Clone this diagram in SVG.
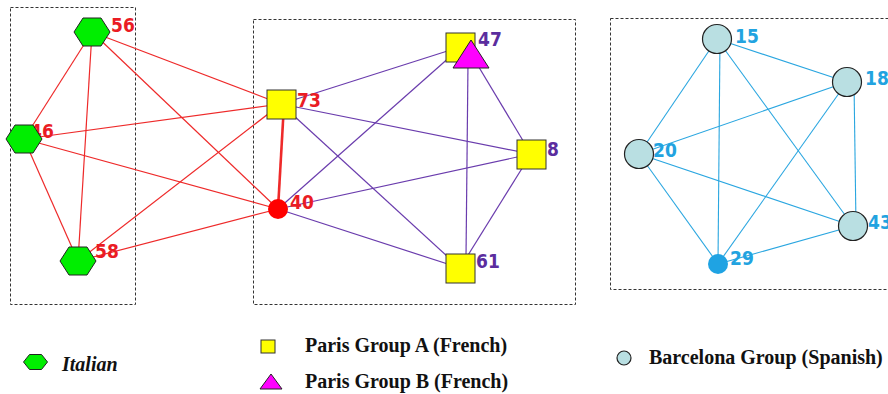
<svg xmlns="http://www.w3.org/2000/svg" width="888" height="394" viewBox="0 0 888 394">
<style>
.box{fill:none;stroke:#333;stroke-width:1;stroke-dasharray:3,2}
.er{stroke:#ee2a2a;stroke-width:1.2;fill:none}
.ep{stroke:#6a3cad;stroke-width:1.2;fill:none}
.eb{stroke:#2aa6e0;stroke-width:1.1;fill:none}
.hex{fill:#00ee00;stroke:#222;stroke-width:1}
.sq{fill:#ffff00;stroke:#333;stroke-width:1}
.tri{fill:#ff00ff;stroke:#222;stroke-width:1}
.cir{fill:#b9dfe2;stroke:#222;stroke-width:1.2}
.lbl{font-family:"DejaVu Sans Condensed","DejaVu Sans",sans-serif;font-weight:bold;font-size:19px}
.red{fill:#ea1c24}
.pur{fill:#5b2d9e}
.blu{fill:#22a3e0}
.leg{font-family:"Liberation Serif","Times New Roman",serif;font-weight:bold;font-size:20px;fill:#111}
</style>
<g id="groups">
<rect class="box" x="10.5" y="7.5" width="125" height="297"/>
<rect class="box" x="253.5" y="19.5" width="322" height="285"/>
<rect class="box" x="610.5" y="18.5" width="290" height="271"/>
</g>
<g id="connectors">
<line class="er" x1="92" y1="32" x2="24" y2="139"/>
<line class="er" x1="92" y1="32" x2="78" y2="261"/>
<line class="er" x1="24" y1="139" x2="78" y2="261"/>
<line class="er" x1="92" y1="32" x2="281" y2="104"/>
<line class="er" x1="92" y1="32" x2="278" y2="209"/>
<line class="er" x1="24" y1="139" x2="281" y2="104"/>
<line class="er" x1="24" y1="139" x2="278" y2="209"/>
<line class="er" x1="78" y1="261" x2="281" y2="104"/>
<line class="er" x1="78" y1="261" x2="278" y2="209"/>
<line class="er" x1="284" y1="104" x2="278" y2="209" style="stroke-width:2.6"/>
<line class="ep" x1="281" y1="104" x2="460" y2="47"/>
<line class="ep" x1="281" y1="104" x2="531" y2="154"/>
<line class="ep" x1="281" y1="104" x2="460" y2="268"/>
<line class="ep" x1="278" y1="209" x2="460" y2="48"/>
<line class="ep" x1="278" y1="209" x2="531" y2="154"/>
<line class="ep" x1="278" y1="209" x2="460" y2="268"/>
<line class="ep" x1="471" y1="54" x2="531" y2="154"/>
<line class="ep" x1="468" y1="62" x2="466" y2="258"/>
<line class="ep" x1="531" y1="154" x2="460" y2="268"/>
<line class="eb" x1="717" y1="39" x2="847" y2="82"/>
<line class="eb" x1="717" y1="39" x2="639" y2="154"/>
<line class="eb" x1="720" y1="39" x2="718" y2="264"/>
<line class="eb" x1="717" y1="39" x2="853" y2="226"/>
<line class="eb" x1="847" y1="82" x2="639" y2="154"/>
<line class="eb" x1="847" y1="82" x2="718" y2="264"/>
<line class="eb" x1="854" y1="82" x2="856" y2="226"/>
<line class="eb" x1="639" y1="154" x2="853" y2="226"/>
<line class="eb" x1="639" y1="154" x2="718" y2="264"/>
<line class="eb" x1="718" y1="264" x2="853" y2="226"/>
</g>
<g id="n56"><text class="lbl red" x="111" y="32">56</text><polygon class="hex" points="74,32 83,18 101,18 110,32 101,46 83,46"/></g>
<g id="n46"><text class="lbl red" x="30" y="138">46</text><polygon class="hex" points="6,139 15,125 33,125 42,139 33,153 15,153"/></g>
<g id="n58"><text class="lbl red" x="95" y="258">58</text><polygon class="hex" points="60,261 69,247 87,247 96,261 87,275 69,275"/></g>
<g id="n73"><text class="lbl red" x="297" y="107">73</text><rect class="sq" x="267" y="90" width="29" height="29"/></g>
<g id="n40"><text class="lbl red" x="290" y="209">40</text><circle cx="278" cy="209" r="10" fill="#ff0000"/></g>
<g id="n47"><text class="lbl pur" x="478" y="46">47</text><rect class="sq" x="446" y="33" width="29" height="29"/><polygon class="tri" points="471,40 489,68 453,68"/></g>
<g id="n8"><text class="lbl pur" x="547" y="156">8</text><rect class="sq" x="517" y="140" width="29" height="29"/></g>
<g id="n61"><text class="lbl pur" x="476" y="268">61</text><rect class="sq" x="446" y="254" width="29" height="29"/></g>
<g id="n15"><text class="lbl blu" x="735" y="43">15</text><circle class="cir" cx="717" cy="39" r="14.5"/></g>
<g id="n18"><text class="lbl blu" x="865" y="85">18</text><circle class="cir" cx="847" cy="82" r="14.5"/></g>
<g id="n20"><text class="lbl blu" x="653" y="157">20</text><circle class="cir" cx="639" cy="154" r="14.5"/></g>
<g id="n43"><text class="lbl blu" x="868" y="229">43</text><circle class="cir" cx="853" cy="226" r="14.5"/></g>
<g id="n29"><text class="lbl blu" x="730" y="265">29</text><circle cx="718" cy="264" r="10" fill="#1fa3e3"/></g>
<g id="legend">
<polygon class="hex" points="23.5,362 29.5,354.5 41.5,354.5 47.5,362 41.5,369.5 29.5,369.5"/>
<text class="leg" x="62" y="371" font-style="italic">Italian</text>
<rect class="sq" x="261" y="340" width="14" height="13"/>
<text class="leg" x="305" y="352">Paris Group A (French)</text>
<polygon class="tri" points="271,374 282,389 260,389"/>
<text class="leg" x="305" y="388">Paris Group B (French)</text>
<circle class="cir" cx="624" cy="358" r="7"/>
<text class="leg" x="649" y="364">Barcelona Group (Spanish)</text>
</g>
</svg>
